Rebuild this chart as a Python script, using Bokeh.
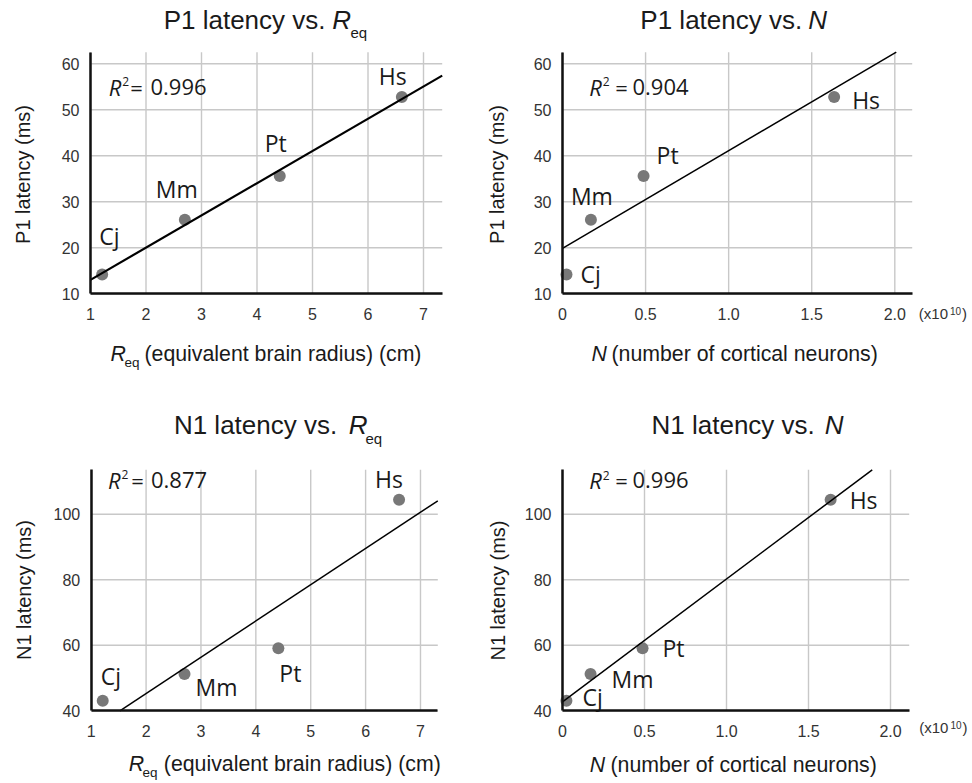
import numpy as np
from bokeh.plotting import figure
from bokeh.models import Label, FixedTicker, ColumnDataSource, Range1d, LinearAxis
from bokeh.layouts import column, row
from bokeh.embed import file_html
from bokeh.resources import INLINE
from bokeh.core.properties import value

# ---------------- data ----------------
species = ["Cj", "Mm", "Pt", "Hs"]
req_cm = [1.21, 2.70, 4.41, 6.61]              # equivalent brain radius (cm)
neurons_e10 = [0.024, 0.171, 0.488, 1.635]     # number of cortical neurons (x1e10)
p1_latency_ms = [14.2, 26.1, 35.6, 52.8]
n1_latency_ms = [43.1, 51.2, 59.1, 104.4]
r2_texts = ["0.996", "0.904", "0.877", "0.996"]

req_ticks = [1, 2, 3, 4, 5, 6, 7]
n_ticks = [0, 0.5, 1.0, 1.5, 2.0]
n_tick_labels = ["0", "0.5", "1.0", "1.5", "2.0"]
p1_ticks = [10, 20, 30, 40, 50, 60]
n1_ticks = [40, 60, 80, 100]

SANS = "Liberation Sans"
LABF = "Open Sans"
DARK = "#1a1a1a"
TICKC = "#333333"
BSHIFT = 0.4     # compensation of the rendered baseline (in em)
LAB_SIZE = 23


def make_panel(cx, cy, cw, ch, xa, ya, xright, ytop, xticks, yticks, xlabels=None):
    xv, xp, sx = xa
    yv, yp, sy = ya

    def X(px):
        return xv + (px - xp) / sx

    def Y(py):
        return yv + (yp - py) / sy

    xr = (X(cx), X(cx + cw))
    yr = (Y(cy + ch), Y(cy))
    x0, x1, y0, y1 = xv, X(xright), yv, Y(ytop)

    p = figure(output_backend="svg", toolbar_location=None, tools="",
               width=cw, height=ch, min_border=0,
               x_axis_location=None, y_axis_location=None,
               x_range=Range1d(*xr), y_range=Range1d(*yr))
    p.outline_line_color = None
    p.background_fill_color = "white"
    p.border_fill_color = "white"
    p.grid.visible = False

    # grid lines at the tick positions, limited to the plotting region
    p.segment(x0=xticks, y0=[y0] * len(xticks), x1=xticks, y1=[y1] * len(xticks),
              line_color="#c8c8c8", line_width=1.4)
    p.segment(x0=[x0] * len(yticks), y0=yticks, x1=[x1] * len(yticks), y1=yticks,
              line_color="#c8c8c8", line_width=1.4)

    xaxis = LinearAxis(fixed_location=y0, bounds=(x0, x1), ticker=FixedTicker(ticks=xticks))
    yaxis = LinearAxis(fixed_location=x0, bounds=(y0, y1), ticker=FixedTicker(ticks=yticks))
    if xlabels is not None:
        xaxis.major_label_overrides = dict(zip(xticks, xlabels))
    for ax in (xaxis, yaxis):
        ax.axis_line_width = 2.5
        ax.axis_line_color = "#111111"
        ax.major_tick_line_color = None
        ax.minor_tick_line_color = None
        ax.major_tick_out = 0
        ax.major_tick_in = 0
        ax.minor_tick_out = 0
        ax.minor_tick_in = 0
        ax.major_label_text_font = SANS
        ax.major_label_text_font_size = "16px"
        ax.major_label_text_color = TICKC
    xaxis.major_label_standoff = 14
    yaxis.major_label_standoff = 11
    p.add_layout(xaxis, "below")
    p.add_layout(yaxis, "left")

    def lab(px, py, text, size, style="normal", font=SANS, align="left", angle=0, color=DARK):
        if angle == 0:
            py = py - BSHIFT * size
        else:
            px = px - BSHIFT * size
        p.add_layout(Label(x=X(px), y=Y(py), text=text, text_font=font,
                           text_font_size=f"{size}px", text_font_style=style,
                           text_align=align, text_baseline="alphabetic",
                           angle=angle, text_color=color))
    return p, lab, (x0, x1, y0, y1)


def add_data(p, box, xs, ys, dx, dy, lw):
    x0, x1, y0, y1 = box
    p.scatter(xs, ys, size=12, fill_color="#787878", line_color=None)
    k, b = np.polyfit(xs, ys, 1)
    xl = max(x0, (y0 - b) / k)
    xh = min(x1, (y1 - b) / k)
    p.line([xl, xh], [k * xl + b, k * xh + b], line_color="black", line_width=lw)
    dy = [d - BSHIFT * LAB_SIZE for d in dy]
    src = ColumnDataSource(dict(x=xs, y=ys, t=species, dx=dx, dy=dy))
    p.text(x="x", y="y", text="t", x_offset="dx", y_offset="dy", source=src,
           text_font=value(LABF), text_font_size=f"{LAB_SIZE}px", text_baseline="alphabetic",
           text_align="left", text_color=DARK)


def r2(lab, rx, base, eqc, vx, txt):
    lab(rx, base, "R", 22, style="italic", font=LABF)
    lab(rx + 13.5, base - 9, "2", 12, font=LABF)
    lab(eqc, base, "=", 22, font=LABF, align="center")
    lab(vx, base, txt, 22, font=LABF)


TS = 26      # title size
AS = 21.3    # x-axis label size
YS = 20      # y-axis label size

# ---------------- panel 1: P1 vs Req ----------------
p1, lab1, b1 = make_panel(0, 0, 486, 392, (1, 90, 55.5), (10, 293.3, 4.6), 441.7, 51.7,
                          req_ticks, p1_ticks)
add_data(p1, b1, req_cm, p1_latency_ms, [-3, -29, -15, -23], [-29, -22, -24, -12], 2.2)
lab1(325, 30, "P1 latency vs.", TS, align="right")
lab1(331.7, 30, "R", TS, style="italic")
lab1(350, 38, "eq", 15)
lab1(30.5, 174, "P1 latency (ms)", YS, align="center", angle=np.pi / 2)
lab1(110, 361.7, "R", AS, style="italic")
lab1(124, 367.5, "eq", 13.5)
lab1(144, 361.7, "(equivalent brain radius) (cm)", AS)
r2(lab1, 108.3, 95, 136, 150, r2_texts[0])

# ---------------- panel 2: P1 vs N ----------------
p2, lab2, b2 = make_panel(486, 0, 485, 392, (0, 562, 166.15), (10, 293.3, 4.6), 911.7, 51.7,
                          n_ticks, p1_ticks, n_tick_labels)
add_data(p2, b2, neurons_e10, p1_latency_ms, [14, -20, 13, 18], [9, -15, -12, 12], 1.5)
lab2(801.7, 29.5, "P1 latency vs.", TS, align="right")
lab2(807.7, 29.5, "N", TS, style="italic")
lab2(504.3, 174, "P1 latency (ms)", YS, align="center", angle=np.pi / 2)
lab2(591, 361.7, "N", AS, style="italic")
lab2(611, 361.7, "(number of cortical neurons)", AS)
lab2(918.3, 319, "(x10", 15, color=TICKC)
lab2(949.5, 314, "10", 10, color=TICKC)
lab2(961.5, 319, ")", 15, color=TICKC)
r2(lab2, 588.7, 95, 621, 632, r2_texts[1])

# ---------------- panel 3: N1 vs Req ----------------
p3, lab3, b3 = make_panel(0, 392, 486, 390, (1, 90.7, 54.88), (40, 710.3, 3.277), 437.3, 469.3,
                          req_ticks, n1_ticks)
add_data(p3, b3, req_cm, n1_latency_ms, [-2, 11, 1, -24], [-15, 22, 34, -12], 1.5)
lab3(336.7, 435, "N1 latency vs.", TS, align="right")
lab3(348.3, 435, "R", TS, style="italic")
lab3(365, 443.5, "eq", 15)
lab3(31, 589.5, "N1 latency (ms)", YS, align="center", angle=np.pi / 2)
lab3(128.3, 772, "R", AS, style="italic")
lab3(142, 777.5, "eq", 13.5)
lab3(163.3, 772, "(equivalent brain radius) (cm)", AS)
r2(lab3, 107.5, 488, 137, 150.5, r2_texts[2])

# ---------------- panel 4: N1 vs N ----------------
p4, lab4, b4 = make_panel(486, 392, 485, 390, (0, 562, 164.0), (40, 710.3, 3.277), 908.7, 469.3,
                          n_ticks, n1_ticks, n_tick_labels)
add_data(p4, b4, neurons_e10, n1_latency_ms, [16, 21, 20, 19], [6, 14, 9, 9], 1.5)
lab4(814.3, 435, "N1 latency vs.", TS, align="right")
lab4(824.3, 435, "N", TS, style="italic")
lab4(505, 590, "N1 latency (ms)", YS, align="center", angle=np.pi / 2)
lab4(589.3, 772.7, "N", AS, style="italic")
lab4(610, 772.7, "(number of cortical neurons)", AS)
lab4(918.7, 733, "(x10", 15, color=TICKC)
lab4(949.9, 728, "10", 10, color=TICKC)
lab4(961.9, 733, ")", 15, color=TICKC)
r2(lab4, 588.7, 488.7, 621, 632, r2_texts[3])

layout = column(row(p1, p2), row(p3, p4))
open("out.html", "w").write(file_html(layout, INLINE))
